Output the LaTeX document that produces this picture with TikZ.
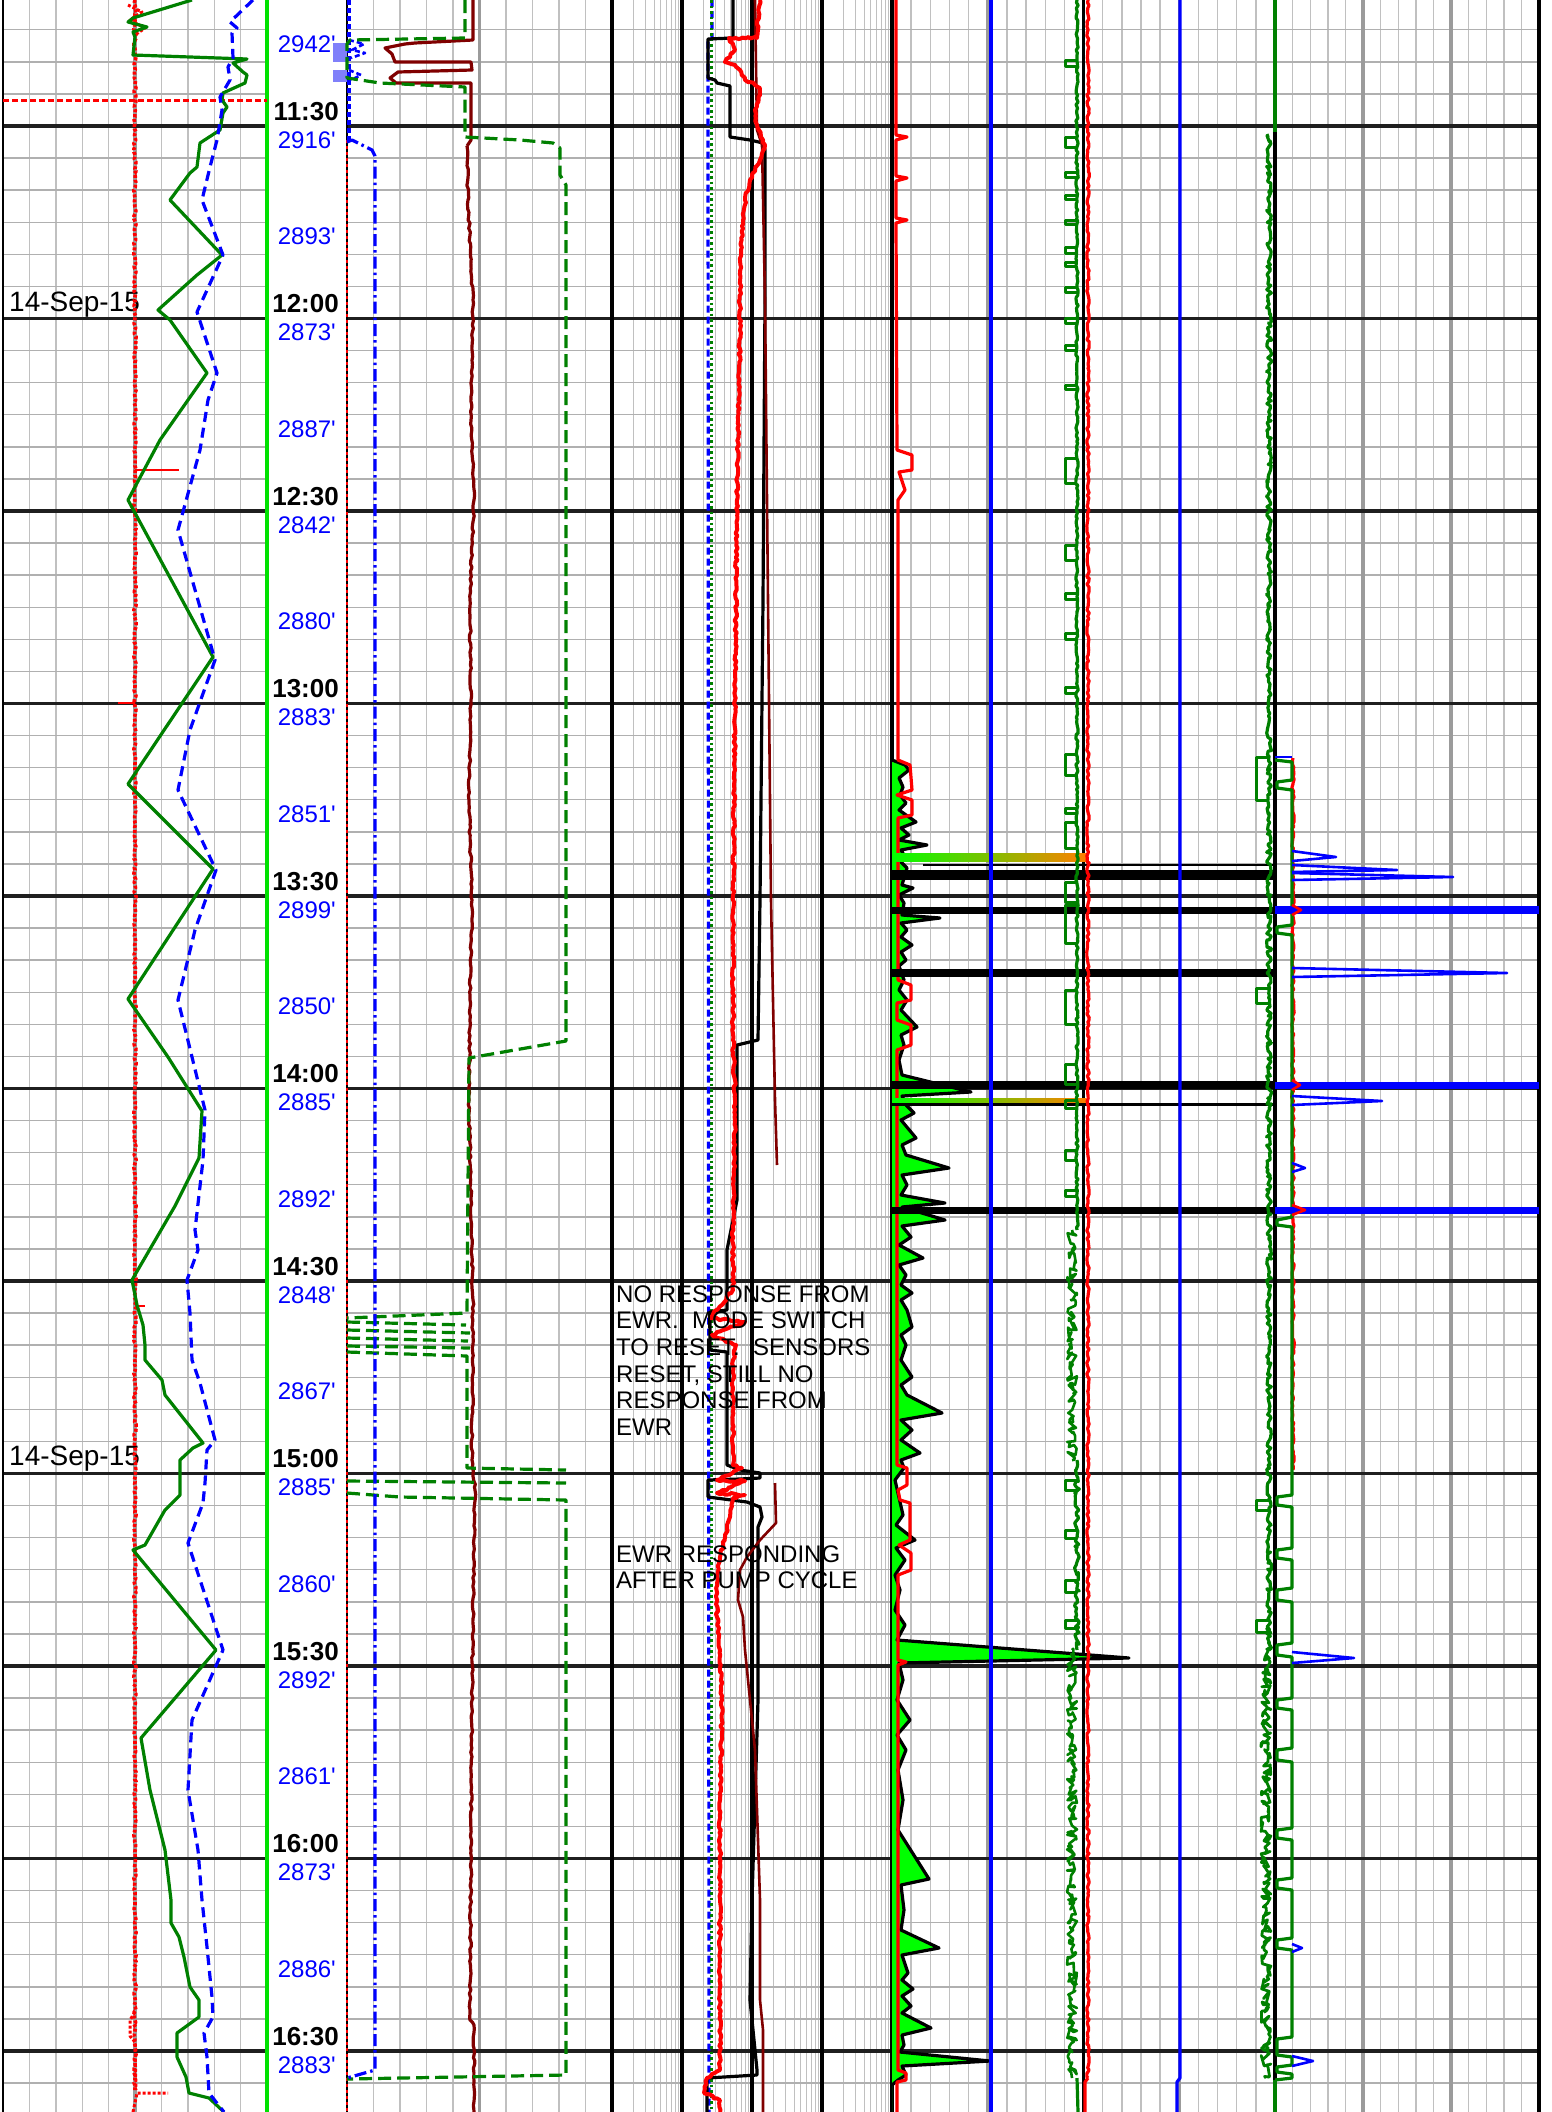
\documentclass[tikz,border=0pt]{standalone}
\usepackage{fontspec}
\setmainfont{Liberation Sans}
\usetikzlibrary{decorations.pathmorphing}
\definecolor{gmin}{RGB}{176,176,176}
\definecolor{gminv}{RGB}{192,192,192}
\definecolor{glog}{RGB}{192,192,192}
\definecolor{gmid}{RGB}{155,155,155}
\definecolor{dgreen}{RGB}{0,128,0}
\definecolor{bgreen}{RGB}{0,225,0}
\definecolor{fgreen}{RGB}{0,255,0}
\definecolor{maroon}{RGB}{128,0,0}
\definecolor{peri}{RGB}{128,128,250}
\begin{document}
\begin{tikzpicture}[x=1pt,y=-1pt,line join=round,
  minor/.style={gmin,line width=1.4pt},
  minorv/.style={gminv,line width=1.4pt},
  logl/.style={glog,line width=1.1pt},
  midg/.style={gmid,line width=3.5pt},
  major/.style={black!88,line width=3.2pt},
  jit/.style={decorate,decoration={random steps,segment length=3pt,amplitude=1.2pt}},
  jitb/.style={decorate,decoration={random steps,segment length=2.5pt,amplitude=2.5pt}},
  jitc/.style={decorate,decoration={random steps,segment length=2pt,amplitude=5pt}},
  gdash/.style={dgreen,line width=3.2pt,dash pattern=on 13pt off 6pt},
  bdash/.style={blue,line width=3.2pt,dash pattern=on 10pt off 6pt},
  bdashdot/.style={blue,line width=3.2pt,dash pattern=on 12pt off 4pt on 2.5pt off 4pt},
  tlab/.style={font=\fontsize{26}{26}\selectfont\bfseries,anchor=base east,inner sep=0pt},
  dlab/.style={font=\fontsize{24}{24}\selectfont,text=blue,anchor=base east,inner sep=0pt},
  note/.style={font=\fontsize{24}{24}\selectfont,anchor=base west,inner sep=0pt},
  bar/.style={black,line width=#1},
  pulse/.style={dgreen,line width=3pt}]
\pgfmathsetseed{4711}
\useasboundingbox (0,0) rectangle (1551,2112);
\fill[white] (0,0) rectangle (1551,2112);

% ---------------- grid ----------------
\foreach \i in {1,...,9}{
  \draw[minorv] ({3+26.4*\i},0) -- ({3+26.4*\i},2112);
  \draw[minorv] ({347+26.5*\i},0) -- ({347+26.5*\i},2112);
}
\foreach \d in {0,1,2,3}{\foreach \k in {2,...,9}{
  \pgfmathsetmacro\xx{612+70*\d+70*log10(\k)}
  \draw[logl] (\xx,0) -- (\xx,2112);}}
\foreach \i in {1,...,19}{\draw[minorv] ({892+19.15*\i},0) -- ({892+19.15*\i},2112);}
\foreach \i in {1,...,14}{\draw[minorv] ({1275+17.6*\i},0) -- ({1275+17.6*\i},2112);}
\foreach \k in {0,...,65}{
  \pgfmathsetmacro\yy{29.75+32.0833*\k}
  \draw[minor] (3,\yy) -- (267,\yy);
  \draw[minor] (347,\yy) -- (1539,\yy);
}
\draw[midg] (135,0) -- (135,2112);
\draw[midg] (479.5,0) -- (479.5,2112);
\draw[midg] (987.75,0) -- (987.75,2112);
\draw[midg] (1179.25,0) -- (1179.25,2112);
\draw[midg] (1363,0) -- (1363,2112);
\draw[midg] (1451,0) -- (1451,2112);
\foreach \m in {0,...,10}{
  \pgfmathsetmacro\yy{126+192.5*\m}
  \draw[major] (3,\yy) -- (267,\yy);
  \draw[major] (347,\yy) -- (1539,\yy);
}
\foreach \x in {612,682,752,822,892,1083.5,1275}{\draw[black,line width=3.2pt] (\x,0) -- (\x,2112);}
\draw[black,line width=2.5pt] (3,0) -- (3,2112);
\draw[black,line width=3.5pt] (1539,0) -- (1539,2112);
\draw[bgreen,line width=3.5pt] (267,0) -- (267,2112);
\draw[black,line width=2.6pt] (347,0) -- (347,2112);
\draw[red,line width=2.6pt,dash pattern=on 3pt off 3pt] (347,140) -- (347,2112);

% ---------------- labels ----------------
\foreach \t [count=\i from 0] in {11:30,12:00,12:30,13:00,13:30,14:00,14:30,15:00,15:30,16:00,16:30}{
  \node[tlab] (t\i) at (339,{120+192.5*\i}) {\t};}
\foreach \d [count=\i from 0] in {2942,2916,2893,2873,2887,2842,2880,2883,2851,2899,2850,2885,2892,2848,2867,2885,2860,2892,2861,2873,2886,2883}{
  \node[dlab] (d\i) at (336,{52+96.25*\i}) {\d\textquotesingle};}
\node[font=\fontsize{28}{28}\selectfont,anchor=base west,inner sep=0pt] (date1) at (9,311) {14-Sep-15};
\node[font=\fontsize{28}{28}\selectfont,anchor=base west,inner sep=0pt] (date2) at (9,1465.5) {14-Sep-15};

% ---------------- track 1 ----------------
\draw[red,line width=3.6pt,dash pattern=on 3pt off 2pt,jit] (135,0) -- (135,2090);
\draw[red,line width=3pt,dash pattern=on 3pt off 2pt] (128,5) -- (142,12) -- (130,20) -- (145,28) -- (135,35);
\draw[red,line width=2.6pt,dash pattern=on 6pt off 3pt] (3,100.5) -- (267,100.5);
\draw[red,line width=2.6pt] (135,470) -- (179,470);
\draw[red,line width=2.6pt] (118,703) -- (135,703);
\draw[red,line width=2.6pt] (135,1306) -- (145,1306);
\draw[red,line width=3pt,dash pattern=on 3pt off 2pt] (135,2012) -- (130,2020) -- (130,2036) -- (135,2042) -- (136,2090);
\draw[red,line width=3pt,dash pattern=on 3pt off 2pt] (133,2112) -- (137,2093) -- (168,2093);

\draw[dgreen,line width=3.2pt] (192,0) -- (133,18) -- (128,22) -- (147,27) -- (133,32) -- (135,37) -- (133,55) -- (247,59) -- (233,63) -- (243,72) -- (247,75) -- (245,83) -- (223,93) -- (222,100) -- (227,107) -- (223,113) -- (220,130) -- (200,143) -- (197,167) -- (190,173) -- (170,200) -- (222,255) -- (197,275) -- (158,310) -- (170,320) -- (207,373) -- (188,400) -- (160,440) -- (128,500) -- (213,657) -- (128,784) -- (213,869) -- (128,999) -- (168,1057) -- (202,1111) -- (199,1158) -- (175,1206) -- (132,1280) -- (137,1305) -- (143,1325) -- (145,1345) -- (145,1360) -- (162,1380) -- (165,1395) -- (203,1443) -- (193,1448) -- (180,1460) -- (180,1495) -- (165,1510) -- (145,1545) -- (133,1550) -- (216,1650) -- (141,1738) -- (150,1790) -- (165,1850) -- (171,1900) -- (171,1923) -- (179,1937) -- (184,1957) -- (190,1987) -- (199,2000) -- (199,2017) -- (177,2033) -- (177,2057) -- (186,2077) -- (189,2093) -- (209,2098) -- (224,2112);

\draw[bdash] (253,0) -- (230,22) -- (237,28) -- (232,33) -- (233,58) -- (228,67) -- (230,80) -- (220,97) -- (222,110) -- (217,140) -- (210,167) -- (202,200) -- (223,255) -- (213,277) -- (197,312) -- (217,373) -- (208,400) -- (200,450) -- (178,530) -- (215,660) -- (190,730) -- (178,790) -- (216,870) -- (195,930) -- (178,1000) -- (205,1110) -- (203,1160) -- (195,1230) -- (198,1250) -- (187,1280) -- (190,1313) -- (192,1360) -- (200,1383) -- (215,1440) -- (207,1450) -- (205,1483) -- (203,1503) -- (188,1543) -- (223,1650) -- (192,1720) -- (188,1790) -- (198,1850) -- (202,1900) -- (207,1947) -- (212,1997) -- (213,2017) -- (204,2033) -- (207,2057) -- (209,2093) -- (224,2112);

% ---------------- depth column extras ----------------
\fill[peri] (333,43) rectangle (347,62);
\fill[peri] (333,70) rectangle (347,82);
\draw[bdash,dash pattern=on 5pt off 3pt] (349,0) -- (349,140);
\draw[blue,line width=2.6pt,dash pattern=on 5pt off 3pt] (349,40) -- (364,44) -- (352,50) -- (365,53) -- (351,58);
\draw[blue,line width=2.6pt,dash pattern=on 5pt off 3pt] (349,70) -- (361,75) -- (351,80);

% ---------------- track 2 ----------------
\draw[maroon,line width=3.2pt] (473,0) -- (473,40) -- (415,43) -- (405,44) -- (385,48) -- (392,54) -- (395,62) -- (471,62) -- (472,70) -- (398,72) -- (390,78) -- (396,83) -- (471,83) -- (471,140) -- (467,146);
\draw[maroon,line width=3.2pt,decorate,decoration={random steps,segment length=4pt,amplitude=0.9pt}] (467,146) -- (468,200) -- (473,300) -- (471,420) -- (474,500) -- (470,600) -- (471,700) -- (469,800) -- (472,900) -- (470,1000) -- (469,1100) -- (471,1200) -- (473,1300) -- (472,1460) -- (475,1490) -- (472,1700) -- (471,1850) -- (470,2020) -- (474,2025) -- (474,2112);

\draw[gdash] (465,0) -- (465,38) -- (350,40) -- (347,44) -- (347,78) -- (380,83) -- (465,87) -- (465,137) -- (520,140) -- (553,143) -- (560,148) -- (560,175) -- (566,185) -- (566,1041) -- (469,1058) -- (467,1313) -- (347,1318);
\draw[gdash] (347,1322) -- (466,1325);
\draw[gdash] (347,1330) -- (470,1333);
\draw[gdash] (347,1338) -- (468,1341);
\draw[gdash] (347,1346) -- (470,1348);
\draw[gdash] (347,1352) -- (467,1356) -- (467,1468) -- (566,1470);
\draw[gdash] (347,1481) -- (566,1483);
\draw[gdash] (347,1493) -- (400,1497) -- (566,1500) -- (566,2075) -- (347,2079);

\draw[bdashdot] (347,142) -- (352,140) -- (372,150) -- (375,156) -- (375,2070) -- (347,2078);

% ---------------- track 3 ----------------
\draw[bdash,dash pattern=on 7pt off 4pt] (712,0) -- (712,40) -- (708,42) -- (708,80) -- (709,2112);
\draw[dgreen,line width=3pt,dash pattern=on 2.5pt off 3pt] (711,0) -- (711,2112);

\draw[black,line width=3.2pt] (733,0) -- (733,38) -- (708,39) -- (708,78) -- (715,80) -- (717,83) -- (730,86) -- (730,137) -- (750,140) -- (763,143) -- (765,150) -- (765,300) -- (763,600) -- (760,900) -- (758,1040) -- (737,1045) -- (737,1200) -- (727,1250) -- (727,1310) -- (710,1312) -- (710,1350) -- (727,1352) -- (727,1465) -- (740,1470) -- (760,1473) -- (760,1478) -- (740,1479) -- (708,1480) -- (708,1497) -- (747,1502) -- (760,1507) -- (762,1517) -- (758,1527) -- (758,1700) -- (752,1900) -- (750,2000) -- (757,2070) -- (757,2075) -- (707,2078) -- (707,2112);

\draw[maroon,line width=2.6pt] (755,0) -- (757,130) -- (762,145) -- (765,300) -- (768,600) -- (771,900) -- (775,1100) -- (777,1165);
\draw[maroon,line width=2.6pt] (775,1483) -- (776,1523) -- (760,1540) -- (747,1557) -- (740,1570) -- (738,1600) -- (743,1617) -- (745,1650) -- (755,1750) -- (760,1900) -- (760,2000) -- (763,2030) -- (763,2112);

\draw[red,line width=4pt,jit] (760,0) -- (757,38) -- (729,38) -- (735,50) -- (725,62) -- (735,65) -- (740,70) -- (745,80) -- (755,85) -- (760,88) -- (760,95) -- (755,110) -- (757,125) -- (763,140) -- (765,145) -- (760,160) -- (750,180) -- (745,200) -- (743,220) -- (741,250) -- (740,290) -- (740,330) -- (737,500) -- (735,700) -- (733,900) -- (733,1040) -- (735,1100) -- (733,1250) -- (733,1290) -- (710,1318) -- (745,1322) -- (712,1335) -- (736,1345) -- (733,1360) -- (733,1465) -- (742,1468) -- (717,1480) -- (745,1481) -- (717,1493) -- (745,1495) -- (733,1498) -- (730,1517) -- (725,1537) -- (720,1557) -- (717,1583) -- (717,1617) -- (720,1650) -- (722,1700) -- (720,1800) -- (720,2070) -- (707,2078) -- (704,2093) -- (720,2100) -- (720,2112);

% ---------------- track 4 ----------------
\def\tfour{(892,760) -- (905,765) -- (909,770) -- (899,778) -- (903,787) -- (900,795) -- (906,803) -- (899,810) -- (916,822) -- (901,828) -- (909,835) -- (899,840) -- (927,845) -- (901,850) -- (904,855) -- (901,862) -- (907,868) -- (902,885) -- (913,888) -- (899,895) -- (904,903) -- (902,915) -- (940,918) -- (901,923) -- (907,930) -- (901,937) -- (912,945) -- (901,952) -- (906,960) -- (899,966) -- (904,980) -- (899,990) -- (907,1000) -- (901,1010) -- (917,1027) -- (901,1035) -- (904,1045) -- (899,1060) -- (902,1075) -- (971,1092) -- (902,1096) -- (906,1105) -- (914,1113) -- (901,1120) -- (916,1138) -- (902,1145) -- (906,1155) -- (949,1168) -- (902,1175) -- (907,1185) -- (901,1195) -- (945,1203) -- (902,1207) -- (945,1220) -- (902,1226) -- (911,1237) -- (899,1245) -- (923,1258) -- (899,1265) -- (906,1275) -- (901,1285) -- (912,1293) -- (901,1300) -- (907,1310) -- (912,1327) -- (901,1335) -- (906,1345) -- (901,1360) -- (912,1377) -- (901,1385) -- (907,1395) -- (942,1413) -- (901,1420) -- (912,1430) -- (901,1440) -- (920,1453) -- (901,1460) -- (904,1468) -- (895,1480) -- (903,1515) -- (896,1525) -- (915,1540) -- (896,1548) -- (905,1560) -- (895,1575) -- (900,1590) -- (895,1610) -- (905,1625) -- (897,1640) -- (1129,1658) -- (899,1663) -- (903,1680) -- (897,1700) -- (910,1720) -- (897,1735) -- (906,1750) -- (898,1770) -- (903,1800) -- (898,1830) -- (929,1879) -- (901,1885) -- (904,1910) -- (901,1930) -- (939,1948) -- (902,1955) -- (908,1973) -- (902,1980) -- (913,1989) -- (902,1996) -- (911,2006) -- (902,2013) -- (931,2028) -- (902,2035) -- (904,2045) -- (900,2052) -- (990,2061) -- (902,2066) -- (906,2075) -- (898,2080) -- (892,2085)}
\fill[fgreen] \tfour -- (892,2112) -- cycle;
\draw[black,line width=3.2pt] \tfour;

\draw[red,line width=3.2pt] (896,0) -- (896,135) -- (907,137) -- (896,140) -- (896,176) -- (907,178) -- (896,181) -- (896,218) -- (907,220) -- (896,223) -- (897,450) -- (912,455) -- (912,470) -- (899,472) -- (905,490) -- (898,500) -- (898,760) -- (910,765) -- (912,790) -- (897,795) -- (912,800) -- (912,815) -- (898,818) -- (898,980) -- (911,985) -- (911,1000) -- (897,1003) -- (897,1020) -- (911,1025) -- (911,1045) -- (897,1050) -- (897,1465) -- (907,1468) -- (907,1485) -- (898,1490) -- (900,1500) -- (910,1503) -- (910,1540) -- (899,1545) -- (911,1553) -- (911,1570) -- (898,1575) -- (898,1660) -- (906,1662) -- (898,1665) -- (898,2070) -- (906,2073) -- (906,2080) -- (897,2082) -- (897,2112);

\shade[left color=fgreen,middle color=yellow,right color=orange] (892,853) rectangle (1086,861);
\shade[left color=fgreen,middle color=yellow,right color=orange] (892,1098) rectangle (1086,1102);
\draw[bar=2.5pt] (923,865) -- (1275,865);
\draw[bar=10pt] (892,875) -- (1275,875);
\draw[bar=7pt] (892,910) -- (1275,910);
\draw[bar=8pt] (892,973) -- (1275,973);
\draw[bar=8pt] (892,1085) -- (1275,1085);
\draw[bar=3pt] (892,1104) -- (1275,1104);
\draw[bar=7pt] (892,1210) -- (1275,1210);

\draw[blue,line width=3.2pt] (991,0) -- (991,2112);
\draw[blue,line width=3.2pt] (1180,0) -- (1180,2078) -- (1177,2082) -- (1177,2112);

\draw[dgreen,line width=3.2pt,jit] (1077,0) -- (1077,1230);
\draw[dgreen,line width=2.6pt,jitc] (1072,1230) -- (1072,1460);
\draw[dgreen,line width=3.2pt,jitb] (1077,1460) -- (1077,1650);
\draw[dgreen,line width=2.6pt,jitc] (1072,1650) -- (1072,2078);
\draw[dgreen,line width=3.2pt] (1077,2078) -- (1078,2112);
\foreach \y/\h in {60/6,137/10,172/5,195/4,220/4,247/6,262/4,287/5,318/5,345/5,385/4,458/25,545/15,593/6,633/6,687/6,754/21,808/5,822/26,882/20,905/38,990/34,1064/20,1100/8,1150/10,1190/6,1480/10,1530/8,1580/12,1620/8}{
  \draw[pulse] (1077,\y) -- (1065,\y) -- (1065,{\y+\h}) -- (1077,{\y+\h});}
\draw[red,line width=3.2pt,jit] (1088,0) -- (1088,2078);
\draw[red,line width=3.2pt] (1088,2078) -- (1085,2082) -- (1085,2112);

\draw[dgreen,line width=3.2pt,jitb] (1269,135) -- (1269,1650);
\draw[dgreen,line width=2.8pt,jitc] (1266,1650) -- (1266,2078);
\foreach \y/\h in {757/43,988/15,1500/10,1620/12}{
  \draw[pulse] (1269,\y) -- (1256,\y) -- (1256,{\y+\h}) -- (1269,{\y+\h});}

% ---------------- track 5 ----------------
\draw[dgreen,line width=4pt] (1275,0) -- (1275,132);
\draw[dgreen,line width=4pt] (1275,2080) -- (1275,2112);
\draw[red,line width=3.2pt,jit] (1293,758) -- (1293,1470);
\draw[blue,line width=2.6pt] (1275,757) -- (1292,757);
\draw[dgreen,line width=3.2pt] (1275,760) -- (1292,762) -- (1292,780) -- (1277,782) -- (1277,788) -- (1292,790) -- (1292,925) -- (1277,927) -- (1277,933) -- (1292,935) -- (1292,1217) -- (1277,1220) -- (1277,1225) -- (1292,1227) -- (1292,1495) -- (1277,1497) -- (1277,1505) -- (1292,1507) -- (1292,1548) -- (1277,1550) -- (1277,1558) -- (1292,1560) -- (1292,1588) -- (1277,1590) -- (1277,1600) -- (1292,1602) -- (1292,1643) -- (1277,1645) -- (1277,1655) -- (1292,1657) -- (1292,1698) -- (1277,1700) -- (1277,1708) -- (1292,1710) -- (1292,1748) -- (1277,1750) -- (1277,1760) -- (1292,1762) -- (1292,1828) -- (1277,1830) -- (1277,1838) -- (1292,1840) -- (1292,1878) -- (1277,1880) -- (1277,1888) -- (1292,1890) -- (1292,1938) -- (1277,1940) -- (1277,1948) -- (1292,1950) -- (1292,2037) -- (1277,2039) -- (1277,2055) -- (1292,2057) -- (1292,2065) -- (1277,2067) -- (1277,2072) -- (1292,2074) -- (1292,2078) -- (1275,2080);
\draw[blue,line width=2.6pt] (1292,851) -- (1336,857) -- (1292,861);
\draw[blue,line width=2.6pt] (1292,865) -- (1397,870) -- (1292,872);
\draw[blue,line width=2.6pt] (1292,873) -- (1453,877) -- (1292,880);
\draw[blue,line width=8pt] (1275,910) -- (1539,910);
\draw[blue,line width=2.6pt] (1292,968) -- (1507,973) -- (1292,977);
\draw[blue,line width=7pt] (1275,1085) -- (1539,1085);
\draw[blue,line width=2.6pt] (1292,1096) -- (1382,1101) -- (1292,1105);
\draw[blue,line width=7pt] (1275,1210) -- (1539,1210);
\draw[blue,line width=2.6pt] (1292,1163) -- (1305,1168) -- (1292,1172);
\draw[blue,line width=2.6pt] (1292,1652) -- (1354,1658) -- (1292,1663);
\draw[blue,line width=2.6pt] (1292,1944) -- (1302,1948) -- (1292,1952);
\draw[blue,line width=2.6pt] (1292,2056) -- (1313,2061) -- (1292,2066);
\draw[red,line width=2.6pt] (1292,905) -- (1301,910) -- (1292,915);
\draw[red,line width=2.6pt] (1292,1080) -- (1300,1085) -- (1292,1090);
\draw[red,line width=2.6pt] (1292,1205) -- (1305,1210) -- (1292,1215);

% ---------------- notes ----------------
\node[note] (n1) at (616,1302) {NO RESPONSE FROM};
\node[note] (n2) at (616,1328.7) {EWR.\ \ MODE SWITCH};
\node[note] (n3) at (616,1355.4) {TO RESET.\ \ SENSORS};
\node[note] (n4) at (616,1382) {RESET, STILL NO};
\node[note] (n5) at (616,1408.7) {RESPONSE FROM};
\node[note] (n6) at (616,1435.4) {EWR};
\node[note] (n7) at (616,1562) {EWR RESPONDING};
\node[note] (n8) at (616,1588.5) {AFTER PUMP CYCLE};
\end{tikzpicture}
\end{document}
